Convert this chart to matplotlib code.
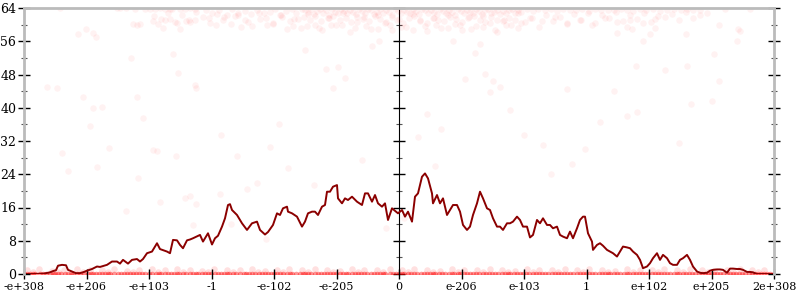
import matplotlib
matplotlib.use("Agg")
import matplotlib.pyplot as plt

# x positions are in "rank" units along the float axis (0..750), one label every 62.5
tick_labels = ["-e+308", "-e+206", "-e+103", "-1", "-e-102", "-e-205", "0",
               "e-206", "e-103", "1", "e+102", "e+205", "2e+308"]

# running line
line_x = [0, 10, 20, 26, 29, 32, 34, 38, 42, 44, 48, 52, 56, 60, 63, 68, 73, 76, 80, 83,
          88, 93, 96, 99, 104, 108, 113, 116, 119, 123, 128, 133, 136, 143, 146, 149, 153,
          156, 159, 163, 166, 169, 176, 179, 184, 188, 191, 194, 198, 201, 204, 206, 208,
          213, 218, 223, 228, 233, 236, 241, 244, 249, 253, 256, 259, 263, 264, 268, 273,
          278, 281, 284, 288, 291, 294, 298, 301, 303, 306, 309, 313, 314, 318, 321, 324,
          328, 333, 338, 341, 344, 348, 351, 354, 358, 361, 364, 368, 371, 374, 378, 381,
          384, 388, 391, 394, 398, 401, 404, 408, 409, 413, 416, 419, 423, 426, 429, 433,
          436, 439, 443, 446, 449, 453, 456, 459, 463, 466, 469, 473, 476, 479, 483, 486,
          489, 493, 496, 499, 503, 506, 509, 513, 516, 519, 523, 526, 529, 533, 536, 539,
          543, 546, 549, 553, 556, 559, 561, 564, 568, 569, 573, 576, 579, 583, 586, 589,
          593, 596, 599, 603, 606, 609, 613, 616, 619, 623, 626, 629, 633, 636, 639, 643,
          646, 649, 653, 656, 659, 663, 666, 669, 673, 676, 679, 683, 686, 689, 693, 696,
          699, 703, 706, 709, 713, 716, 719, 723, 726, 729, 733, 750]
line_y = [0, 0, 0.1, 0.4, 0.7, 0.9, 2.0, 2.2, 2.1, 1.0, 0.6, 0.2, 0.2, 0.5, 0.8, 1.2, 1.8,
          1.7, 2.0, 2.2, 3.0, 3.0, 2.5, 3.4, 2.5, 3.4, 3.6, 3.0, 3.6, 5.0, 5.4, 7.4, 6.0,
          5.4, 5.0, 8.2, 8.1, 7.0, 6.2, 8.1, 8.3, 8.6, 9.4, 7.8, 9.8, 7.1, 8.6, 9.2, 11.4,
          13.4, 16.6, 16.8, 15.4, 14.2, 12.2, 10.6, 12.2, 12.6, 10.6, 9.5, 10.1, 11.8, 14.6,
          14.2, 15.8, 16.2, 15.0, 14.6, 13.8, 11.4, 12.6, 14.6, 15.0, 15.0, 14.2, 16.2, 16.6,
          19.8, 19.8, 21.0, 21.4, 18.2, 17.0, 18.2, 17.8, 18.6, 17.4, 16.6, 19.4, 19.4, 17.4,
          19.0, 17.0, 16.2, 17.0, 13.0, 15.8, 15.2, 14.6, 15.4, 13.8, 15.0, 12.6, 18.6, 19.4,
          23.4, 24.2, 23.0, 19.4, 17.0, 19.0, 17.0, 18.2, 14.2, 15.4, 16.6, 16.6, 15.0, 11.8,
          10.6, 11.4, 14.2, 17.0, 19.8, 18.2, 15.8, 15.4, 13.4, 11.4, 11.4, 10.6, 12.2, 12.2,
          12.6, 13.8, 13.0, 11.4, 11.4, 8.8, 9.4, 13.0, 12.2, 13.4, 11.8, 11.8, 11.0, 11.4,
          9.4, 9.0, 8.6, 10.2, 8.6, 11.0, 13.0, 13.8, 13.8, 9.8, 7.8, 5.8, 7.0, 7.4, 6.8,
          5.8, 5.4, 5.0, 4.2, 5.4, 6.6, 6.4, 6.2, 5.4, 4.6, 3.4, 1.4, 1.8, 2.6, 3.8, 5.0,
          3.4, 4.6, 3.8, 2.6, 2.2, 2.2, 3.4, 3.8, 4.6, 3.4, 1.8, 0.6, 0.3, 0.2, 0.3, 0.8,
          1.0, 1.1, 1.1, 1.0, 0.3, 1.3, 1.3, 1.2, 1.2, 1.0, 0.5, 0.5, 0.4, 0.0, 0.0]

# individual samples near the top of the range
top_x = [36, 54, 62, 69, 72, 93, 96, 102, 111, 121, 126, 131, 136, 141, 146, 148, 156, 161,
         166, 171, 109, 113, 116, 129, 134, 139, 141, 146, 153, 156, 162, 166, 171,
         182, 188, 195, 203, 208, 214, 221, 227, 233, 240, 246, 251, 257, 262, 268, 272,
         185, 199, 211, 224, 236, 249, 258, 266, 274, 192, 217, 243, 269,
         278, 281, 284, 287, 290, 293, 296, 299, 302, 305, 308, 311, 314, 317, 320, 323,
         326, 329, 332, 335, 338, 341, 344, 347, 350, 353, 356, 359, 362, 365, 368, 371,
         374, 377, 380, 383, 386, 389, 392, 395, 398, 401, 404, 407, 410, 413, 416, 419,
         422, 425, 428, 431, 434, 437, 440, 443, 446, 449, 452, 455, 458, 461, 464, 467,
         470, 473, 476, 479, 482, 485, 488, 491, 494, 497,
         280, 286, 291, 297, 304, 309, 316, 322, 327, 333, 339, 345, 351, 356, 362, 368,
         373, 379, 385, 390, 396, 403, 409, 414, 420, 426, 432, 438, 444, 450, 456, 461,
         467, 473, 479, 485, 491, 497,
         283, 295, 307, 318, 331, 342, 354, 366, 377, 389, 401, 412, 424, 436, 447, 459,
         471, 482, 494,
         503, 509, 514, 521, 527, 533, 539, 546, 552, 558, 565, 571, 577, 584, 590, 597,
         603, 609, 616, 622, 629, 636, 643, 650, 657, 663, 669, 676, 701, 726,
         506, 518, 531, 543, 556, 568, 581, 593, 606, 619, 631, 593, 603, 608, 626, 631,
         662, 714, 716,
         130, 137, 144, 151, 158, 165, 172, 179, 186, 193, 200, 207, 214, 221, 228, 235,
         242, 249, 256, 263, 270, 277, 284, 291, 298, 305, 312, 319, 326, 333, 340, 347,
         354, 361, 368, 375, 382, 389, 396, 403, 410, 417, 424, 431, 438, 445, 452, 459,
         466, 473, 480, 487, 494, 501, 508, 515, 522, 529, 536, 543, 550, 557, 564, 571,
         578, 585, 592, 599, 606, 613, 620, 627, 634, 641, 648, 655, 662, 669, 676, 683]
top_y = [64, 57.7, 59.0, 58.0, 57.0, 64, 64, 64, 63.8, 63.8, 63.7, 63.8, 63.9, 63.8, 63.7,
         63.8, 63.7, 63.8, 63.9, 63.8, 60.2, 60.0, 60.2, 60.9, 60.2, 59.2, 61.1, 61.3, 60.5,
         59.0, 60.9, 60.6, 61.0,
         63.6, 62.8, 63.4, 62.2, 63.7, 62.9, 63.3, 62.5, 63.6, 62.7, 63.1, 63.7, 62.4, 63.2,
         63.7, 62.8,
         61.6, 61.0, 62.0, 60.6, 61.4, 60.3, 61.8, 60.8, 61.3, 59.8, 59.5, 60.0, 59.7,
         63.8, 63.4, 63.0, 63.7, 62.6, 63.2, 63.8, 62.9, 63.5, 62.4, 63.7, 63.1, 62.7, 63.8,
         63.3, 62.8, 63.6, 63.0, 62.5, 63.7, 63.2, 62.9, 63.8, 63.4, 62.6, 63.1, 63.7, 62.8,
         63.5, 63.0, 62.4, 63.8, 63.3, 62.7, 63.6, 63.1, 62.9, 63.7, 63.2, 62.5, 63.8, 63.4,
         62.8, 63.6, 63.0, 62.6, 63.7, 63.3, 62.9, 63.5, 63.1, 62.4, 63.8, 63.2, 62.7, 63.6,
         63.0, 62.8, 63.7, 63.3, 62.5, 63.4, 63.8, 62.9, 63.1, 63.6, 62.6, 63.2,
         62.9, 63.5, 63.7, 62.8, 63.4, 63.0,
         61.8, 61.2, 62.0, 60.9, 61.5, 62.1, 61.0, 61.7, 60.6, 61.9, 61.3, 60.8, 62.0, 61.4,
         60.7, 61.8, 61.1, 60.5, 61.6, 62.1, 61.0, 60.4, 61.7, 61.2, 60.8, 61.9, 61.3, 60.6,
         61.5, 62.0, 61.1, 60.7, 61.8, 61.2, 60.9, 61.6, 61.0, 60.5,
         59.6, 59.1, 59.8, 60.0, 59.3, 59.7, 58.9, 59.9, 59.4, 58.8, 59.6, 60.0, 59.2, 59.8,
         59.0, 59.5, 58.7, 59.9, 59.3,
         63.7, 63.3, 63.8, 63.4, 63.7, 63.2, 63.8, 63.5, 63.6, 63.7, 63.3, 63.8, 63.5, 63.6,
         63.4, 63.8, 63.6, 63.3, 63.7, 63.5, 63.8, 63.2, 63.6, 63.7, 63.4, 63.8, 63.5, 63.6,
         63.8, 63.8,
         61.5, 60.8, 61.8, 60.5, 61.2, 60.0, 61.6, 60.7, 61.1, 60.3, 61.4, 58.0, 59.5, 59.0,
         57.8, 59.2, 57.8, 59.0, 58.5,
         62.1, 61.4, 62.8, 60.7, 62.3, 61.1, 63.0, 61.8, 60.4, 62.6, 61.9, 60.2, 62.4, 61.0,
         59.6, 62.7, 61.5, 60.1, 62.2, 58.9, 61.3, 59.2, 62.5, 60.0, 58.6, 61.7, 59.9, 62.9,
         58.3, 60.6, 61.9, 59.0, 62.2, 60.3, 58.8, 61.4, 59.5, 62.6, 60.9, 58.5, 61.6, 59.3,
         62.4, 60.1, 58.7, 61.8, 59.7, 62.0, 60.4, 58.2, 61.2, 59.8, 62.7, 60.6, 61.5, 59.4,
         62.3, 60.8, 61.9, 60.2, 62.5, 61.0, 62.9, 60.5, 62.2, 61.6, 63.1, 60.9, 62.4, 61.3,
         62.8, 60.6, 62.0, 61.8, 62.6, 61.2, 63.0, 61.7, 62.3, 62.9]

# scattered samples in the middle of the range
mid_x = [69, 78, 66, 119, 38, 85, 44, 73, 133, 129, 152, 114, 166, 23, 33, 59, 113, 107,
         149, 154, 171, 172, 281, 302, 314, 321, 309, 348, 355, 429, 451, 456, 441, 469,
         461, 476, 466, 403, 394, 411, 255, 246, 233, 264, 197, 213, 223, 290, 338, 417,
         486, 519, 548, 590, 612, 619, 641, 663, 667, 613, 603, 688, 695, 690, 695, 713,
         543, 576, 561, 655, 527, 500, 380, 362, 242, 207, 136, 102, 169, 172, 161, 196]
mid_y = [40.0, 40.2, 35.6, 37.5, 29.1, 30.3, 24.8, 25.7, 29.6, 29.9, 28.4, 23.1, 18.8, 45.0,
         44.8, 42.6, 42.6, 52.0, 52.9, 48.4, 45.5, 44.8, 53.9, 49.3, 49.8, 47.2, 44.8, 54.9,
         56.0, 56.0, 53.2, 55.3, 46.9, 46.5, 48.2, 45.0, 43.8, 38.5, 33.0, 26.0, 36.0, 30.5,
         22.0, 25.5, 33.5, 28.5, 20.5, 21.5, 27.5, 35.0, 39.5, 31.0, 26.5, 44.0, 50.0, 56.0,
         49.0, 50.0, 40.8, 39.0, 38.0, 41.7, 60.0, 52.9, 46.5, 56.0, 44.6, 36.5, 30.0, 31.5,
         24.0, 33.5, 13.5, 11.0, 8.5, 12.0, 17.3, 15.2, 11.8, 16.8, 18.3, 19.2]

# samples at the bottom of the range
low_x = [0, 6, 11, 19, 26, 31, 37, 44, 49, 56, 64, 69, 75, 81, 86, 94, 100, 106, 112, 118,
         125, 132, 137, 144, 150, 155, 162, 169, 174, 181, 187, 194, 200, 205, 212, 220,
         225, 231, 238, 244, 250, 256, 263, 268, 276, 281, 287, 294, 300, 306, 312, 319,
         324, 331, 337, 343, 350, 356, 361, 369, 375, 380, 387, 393, 400, 406, 411, 418,
         425, 430, 436, 443, 449, 455, 462, 468, 474, 481, 486, 493, 499, 505, 512, 518,
         524, 531, 537, 543, 549, 556, 562, 568, 575, 581, 586, 593, 600, 605, 612, 618,
         624, 631, 637, 643, 650, 655, 662, 668, 675, 681, 687, 693, 699, 706, 712, 718,
         725, 731, 737, 743, 750,
         3, 9, 16, 22, 29, 34, 41, 47, 53, 60, 67, 72, 78, 84, 90, 97, 103, 109, 115, 121,
         128, 135, 141, 147, 153, 159, 166, 172, 178, 184, 191, 197, 203, 209, 216, 222,
         228, 235, 241, 247, 253, 259, 266, 272, 279, 284, 291, 297, 303, 309, 316, 322,
         328, 334, 340, 347, 353, 359, 366, 372, 378, 384, 390, 397, 403, 409, 415, 421,
         428, 434, 440, 446, 452, 459, 465, 471, 478, 484, 490, 496, 502, 509, 515, 521,
         528, 534, 540, 546, 553, 559, 565, 571, 578, 584, 590, 596, 603, 609, 615, 621,
         628, 634, 640, 646, 653, 659, 665, 671, 678, 684, 690, 696, 703, 709, 715, 721,
         728, 734, 740, 746]
low2_x = [3, 15, 28, 40, 53, 66, 78, 90, 103, 115, 128, 141, 153, 166, 178, 190, 203, 216,
          228, 241, 253, 265, 278, 291, 303, 316, 328, 340, 353, 366, 378, 390, 403, 416,
          428, 440, 453, 466, 478, 491, 503, 515, 528, 541, 553, 565, 578, 591, 603, 616,
          628, 640, 653, 666, 678, 690, 703, 716, 728, 740,
          9, 34, 59, 84, 109, 134, 159, 184, 209, 234, 259, 284, 309, 334, 359, 384, 409,
          434, 459, 484, 509, 534, 559, 584, 609, 634, 659, 684, 709, 734]
low2_y = [0.9, 1.1, 0.8, 1.0, 1.2, 0.9, 1.0, 1.1, 0.8, 1.0, 1.2, 0.9, 1.1, 1.0, 0.8, 1.1,
          0.9, 1.0, 1.2, 0.8, 1.0, 1.1, 0.9, 1.2, 1.0, 0.8, 1.1, 0.9, 1.0, 1.2, 0.9, 1.1,
          1.0, 0.8, 1.1, 1.0, 0.9, 1.2, 1.0, 0.8, 1.1, 0.9, 1.0, 1.2, 0.9, 1.1, 1.0, 0.8,
          1.1, 0.9, 1.0, 1.2, 0.9, 1.1, 1.0, 0.8, 1.0, 1.1, 0.9, 1.0,
          0.5, 0.6, 0.4, 0.5, 0.6, 0.5, 0.4, 0.6, 0.5, 0.5, 0.6, 0.4, 0.5, 0.6, 0.5, 0.4,
          0.6, 0.5, 0.5, 0.6, 0.4, 0.5, 0.6, 0.5, 0.4, 0.6, 0.5, 0.5, 0.6, 0.4]

fig = plt.figure(figsize=(8, 3), dpi=100)
ax = fig.add_axes([24 / 800, 26 / 300, 750 / 800, 266 / 300])

ax.scatter(top_x + mid_x, top_y + mid_y, s=22, color="red", alpha=0.05, linewidths=0)
ax.scatter(low2_x, low2_y, s=22, color="red", alpha=0.12, linewidths=0)
ax.scatter(low_x, [0] * len(low_x), s=16, color="red", alpha=0.4, linewidths=0)
ax.plot(line_x, line_y, color="#8b0000", linewidth=1.4)

ax.set_xlim(0, 750)
ax.set_ylim(0, 64)
ax.set_xticks([i * 62.5 for i in range(len(tick_labels))])
ax.set_xticklabels(tick_labels, family="DejaVu Serif", fontsize=8)
ax.set_yticks(range(0, 65, 8))
ax.set_yticks(range(4, 64, 8), minor=True)
for lab in ax.get_yticklabels():
    lab.set_family("DejaVu Serif")
    lab.set_fontsize(9)

for s in ["left", "right", "top"]:
    ax.spines[s].set_color("#bbbbbb")
    ax.spines[s].set_linewidth(2)
ax.spines["bottom"].set_visible(False)

ax.tick_params(axis="y", which="major", direction="inout", length=9, width=1,
               color="black", right=True, pad=1)
ax.tick_params(axis="y", which="minor", direction="inout", length=4, width=0.8,
               color="#555555", right=True)
ax.tick_params(axis="x", direction="inout", length=7, width=1, color="black", pad=2)

mid = ax.secondary_yaxis(0.5)
mid.spines["left"].set_color("#bbbbbb")
mid.spines["left"].set_linewidth(2)
mid.set_yticks(range(0, 65, 8))
mid.set_yticks(range(4, 64, 8), minor=True)
mid.set_yticklabels([])
mid.tick_params(which="major", direction="inout", length=9, width=1, color="black")
mid.tick_params(which="minor", direction="inout", length=4, width=0.8, color="#555555")

plt.savefig("out.png", dpi=100)
